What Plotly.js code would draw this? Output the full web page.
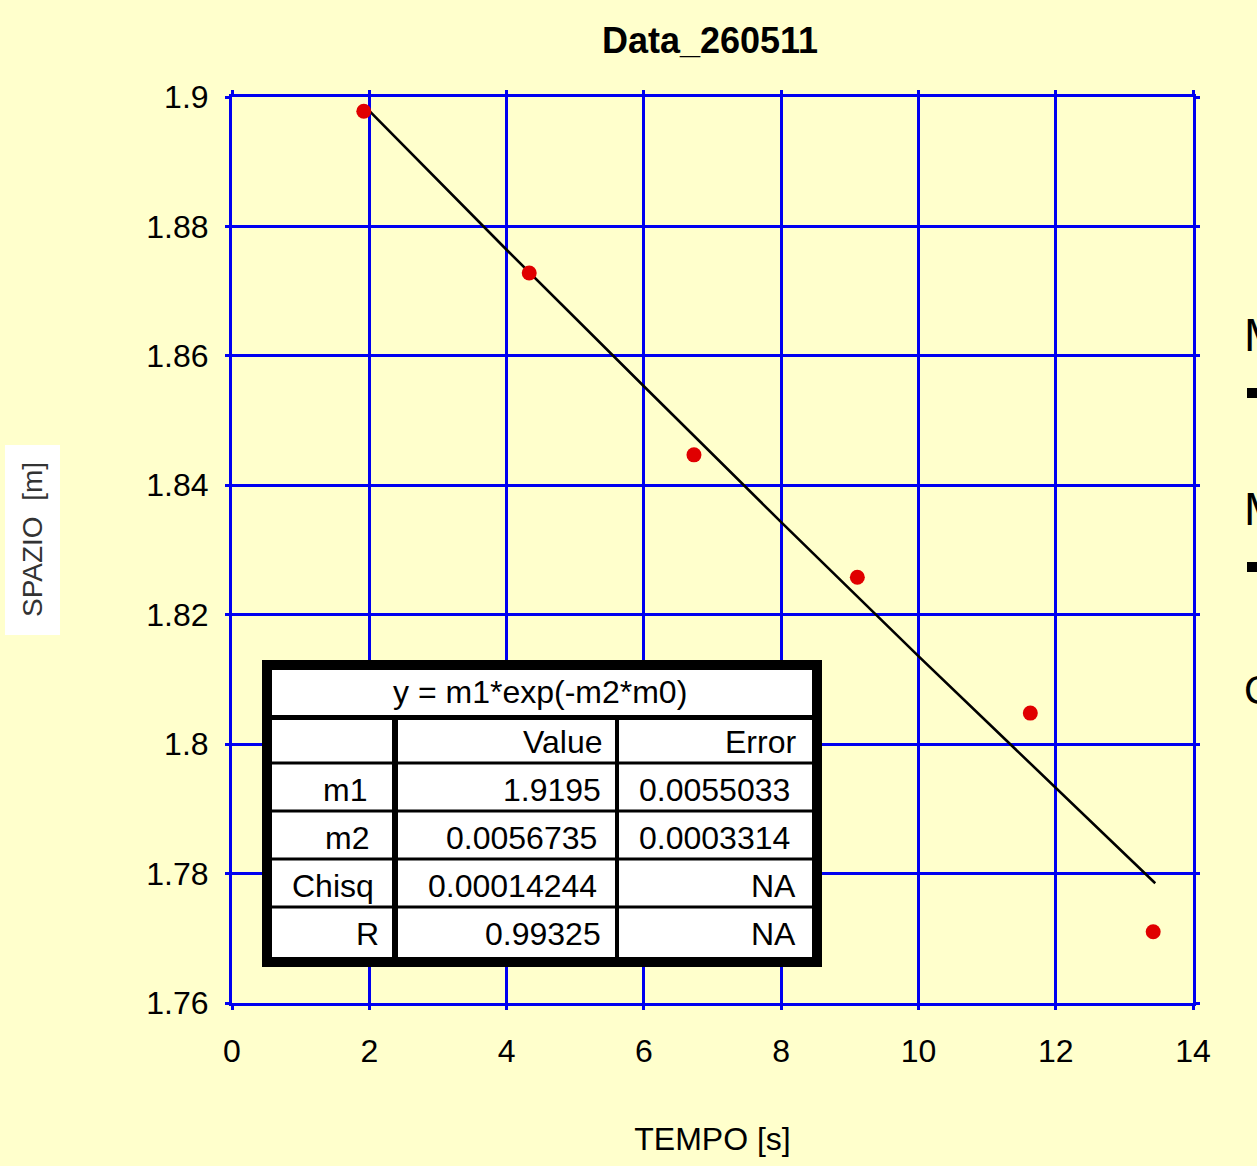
<!DOCTYPE html>
<html>
<head>
<meta charset="utf-8">
<script src="https://cdn.plot.ly/plotly-3.0.1.min.js"></script>
<style>html,body{margin:0;padding:0;background:#FFFFCC;}#chart{width:1257px;height:1166px;}</style>
</head>
<body>
<div id="chart"></div>
<script>
// ---- data ----
const chartTitle = "Data_260511";
const xTitle = "TEMPO [s]";
const yTitle = "SPAZIO  [m]";
const tempo  = [1.92, 4.33, 6.73, 9.11, 11.63, 13.42];
const spazio = [1.8978, 1.8728, 1.8447, 1.8258, 1.8048, 1.7710];
const fitTempo  = [1.95, 4, 6, 8, 10, 12, 13.45];
const fitSpazio = [1.8984, 1.8764, 1.8553, 1.8343, 1.8136, 1.7932, 1.7785];
const xTicks = [0, 2, 4, 6, 8, 10, 12, 14];
const yTicks = [1.76, 1.78, 1.8, 1.82, 1.84, 1.86, 1.88, 1.9];
const yTickText = ["1.76", "1.78", "1.8", "1.82", "1.84", "1.86", "1.88", "1.9"];
const tableTitle = "y = m1*exp(-m2*m0)";
const colHeaders = ["", "Value", "Error"];
const paramNames  = ["m1", "m2", "Chisq", "R"];
const paramValues = ["1.9195", "0.0056735", "0.00014244", "0.99325"];
const paramErrors = ["0.0055033", "0.0003314", "NA", "NA"];

// ---- layout helpers (pixel -> paper) ----
const L = 232, R = 1193, T = 97, B = 1003;
const X = px => (px - L) / (R - L);
const Y = py => (B - py) / (B - T);
const FONT = "Liberation Sans, Arial, sans-serif";
const BLUE = "#0000F0";
const TF = 32;

const shapes = [];
const annotations = [];
function rect(x0, y0, x1, y1, color) {
  shapes.push({type: "rect", xref: "paper", yref: "paper", x0: X(x0), x1: X(x1), y0: Y(y1), y1: Y(y0),
    fillcolor: color, line: {width: 0}, layer: "above"});
}
function text(t, px, py, anchor, size, opts) {
  annotations.push(Object.assign({xref: "paper", yref: "paper", x: X(px), y: Y(py), text: t,
    xanchor: anchor, yanchor: "middle", showarrow: false,
    font: {family: FONT, size: size, color: "#000"}}, opts || {}));
}

// y-axis title white box
rect(5, 445, 60, 635, "#FFFFFF");
annotations.push({xref: "paper", yref: "paper", x: X(32), y: Y(540), text: yTitle, textangle: -90,
  showarrow: false, xanchor: "center", yanchor: "middle",
  font: {family: FONT, size: 28, color: "#333"}});

// table
rect(262, 660, 822, 967, "#000000");
rect(272, 670, 812, 957, "#FFFFFF");
rect(272, 715, 812, 720, "#000000");
[763, 811, 859, 907].forEach(y => rect(272, y - 1.5, 812, y + 1.5, "#000000"));
rect(392, 718, 398, 957, "#000000");
rect(615, 718, 619, 957, "#000000");

text(tableTitle, 540, 692, "center", TF);
const rowY = [742, 790, 838, 886, 934];
text(colHeaders[1], 604, rowY[0], "right", TF);
text(colHeaders[2], 798, rowY[0], "right", TF);
const nameX = [369, 371, 376, 381];
const valX = [603, 599, 599, 603];
const errX = [792, 792, 798, 798];
paramNames.forEach((n, i) => {
  text(n, nameX[i], rowY[i + 1], "right", TF);
  text(paramValues[i], valX[i], rowY[i + 1], "right", TF);
  text(paramErrors[i], errX[i], rowY[i + 1], "right", TF);
});

// clipped legend fragments at the right edge (cut off in the reference too)
text("M", 1242, 335, "left", 46);
rect(1247, 388, 1262, 398, "#000000");
text("M", 1242, 509, "left", 46);
rect(1247, 562, 1262, 572, "#000000");
text("C", 1242, 690, "left", 40);

const traces = [
  {x: fitTempo, y: fitSpazio, type: "scatter", mode: "lines",
   line: {color: "#000", width: 2.6}, hoverinfo: "skip", showlegend: false},
  {x: tempo, y: spazio, type: "scatter", mode: "markers",
   marker: {color: "#E00000", size: 15}, showlegend: false}
];

const axisCommon = {
  showgrid: true, gridcolor: BLUE, gridwidth: 3,
  showline: true, linecolor: BLUE, linewidth: 3, mirror: "ticks",
  ticks: "outside", ticklen: 4, tickcolor: BLUE, tickwidth: 3,
  zeroline: false, tickfont: {family: FONT, size: 32, color: "#000"}
};

const layout = {
  width: 1257, height: 1166,
  paper_bgcolor: "#FFFFCC", plot_bgcolor: "#FFFFCC",
  margin: {l: L, r: 1257 - R, t: T, b: 1166 - B},
  title: {text: "<b>" + chartTitle + "</b>", xref: "container", x: 710 / 1257, xanchor: "center",
    yref: "container", y: 1 - 40 / 1166, yanchor: "middle",
    font: {family: FONT, size: 36, color: "#000"}},
  xaxis: Object.assign({}, axisCommon, {range: [0, 14], tickvals: xTicks, ticklabelstandoff: 14,
    title: {text: xTitle, font: {family: FONT, size: 32, color: "#000"}, standoff: 60}}),
  yaxis: Object.assign({}, axisCommon, {range: [1.76, 1.9], tickvals: yTicks, ticktext: yTickText,
    ticklabelstandoff: 10}),
  shapes: shapes,
  annotations: annotations
};

Plotly.newPlot("chart", traces, layout, {displayModeBar: false, staticPlot: true});
</script>
</body>
</html>
